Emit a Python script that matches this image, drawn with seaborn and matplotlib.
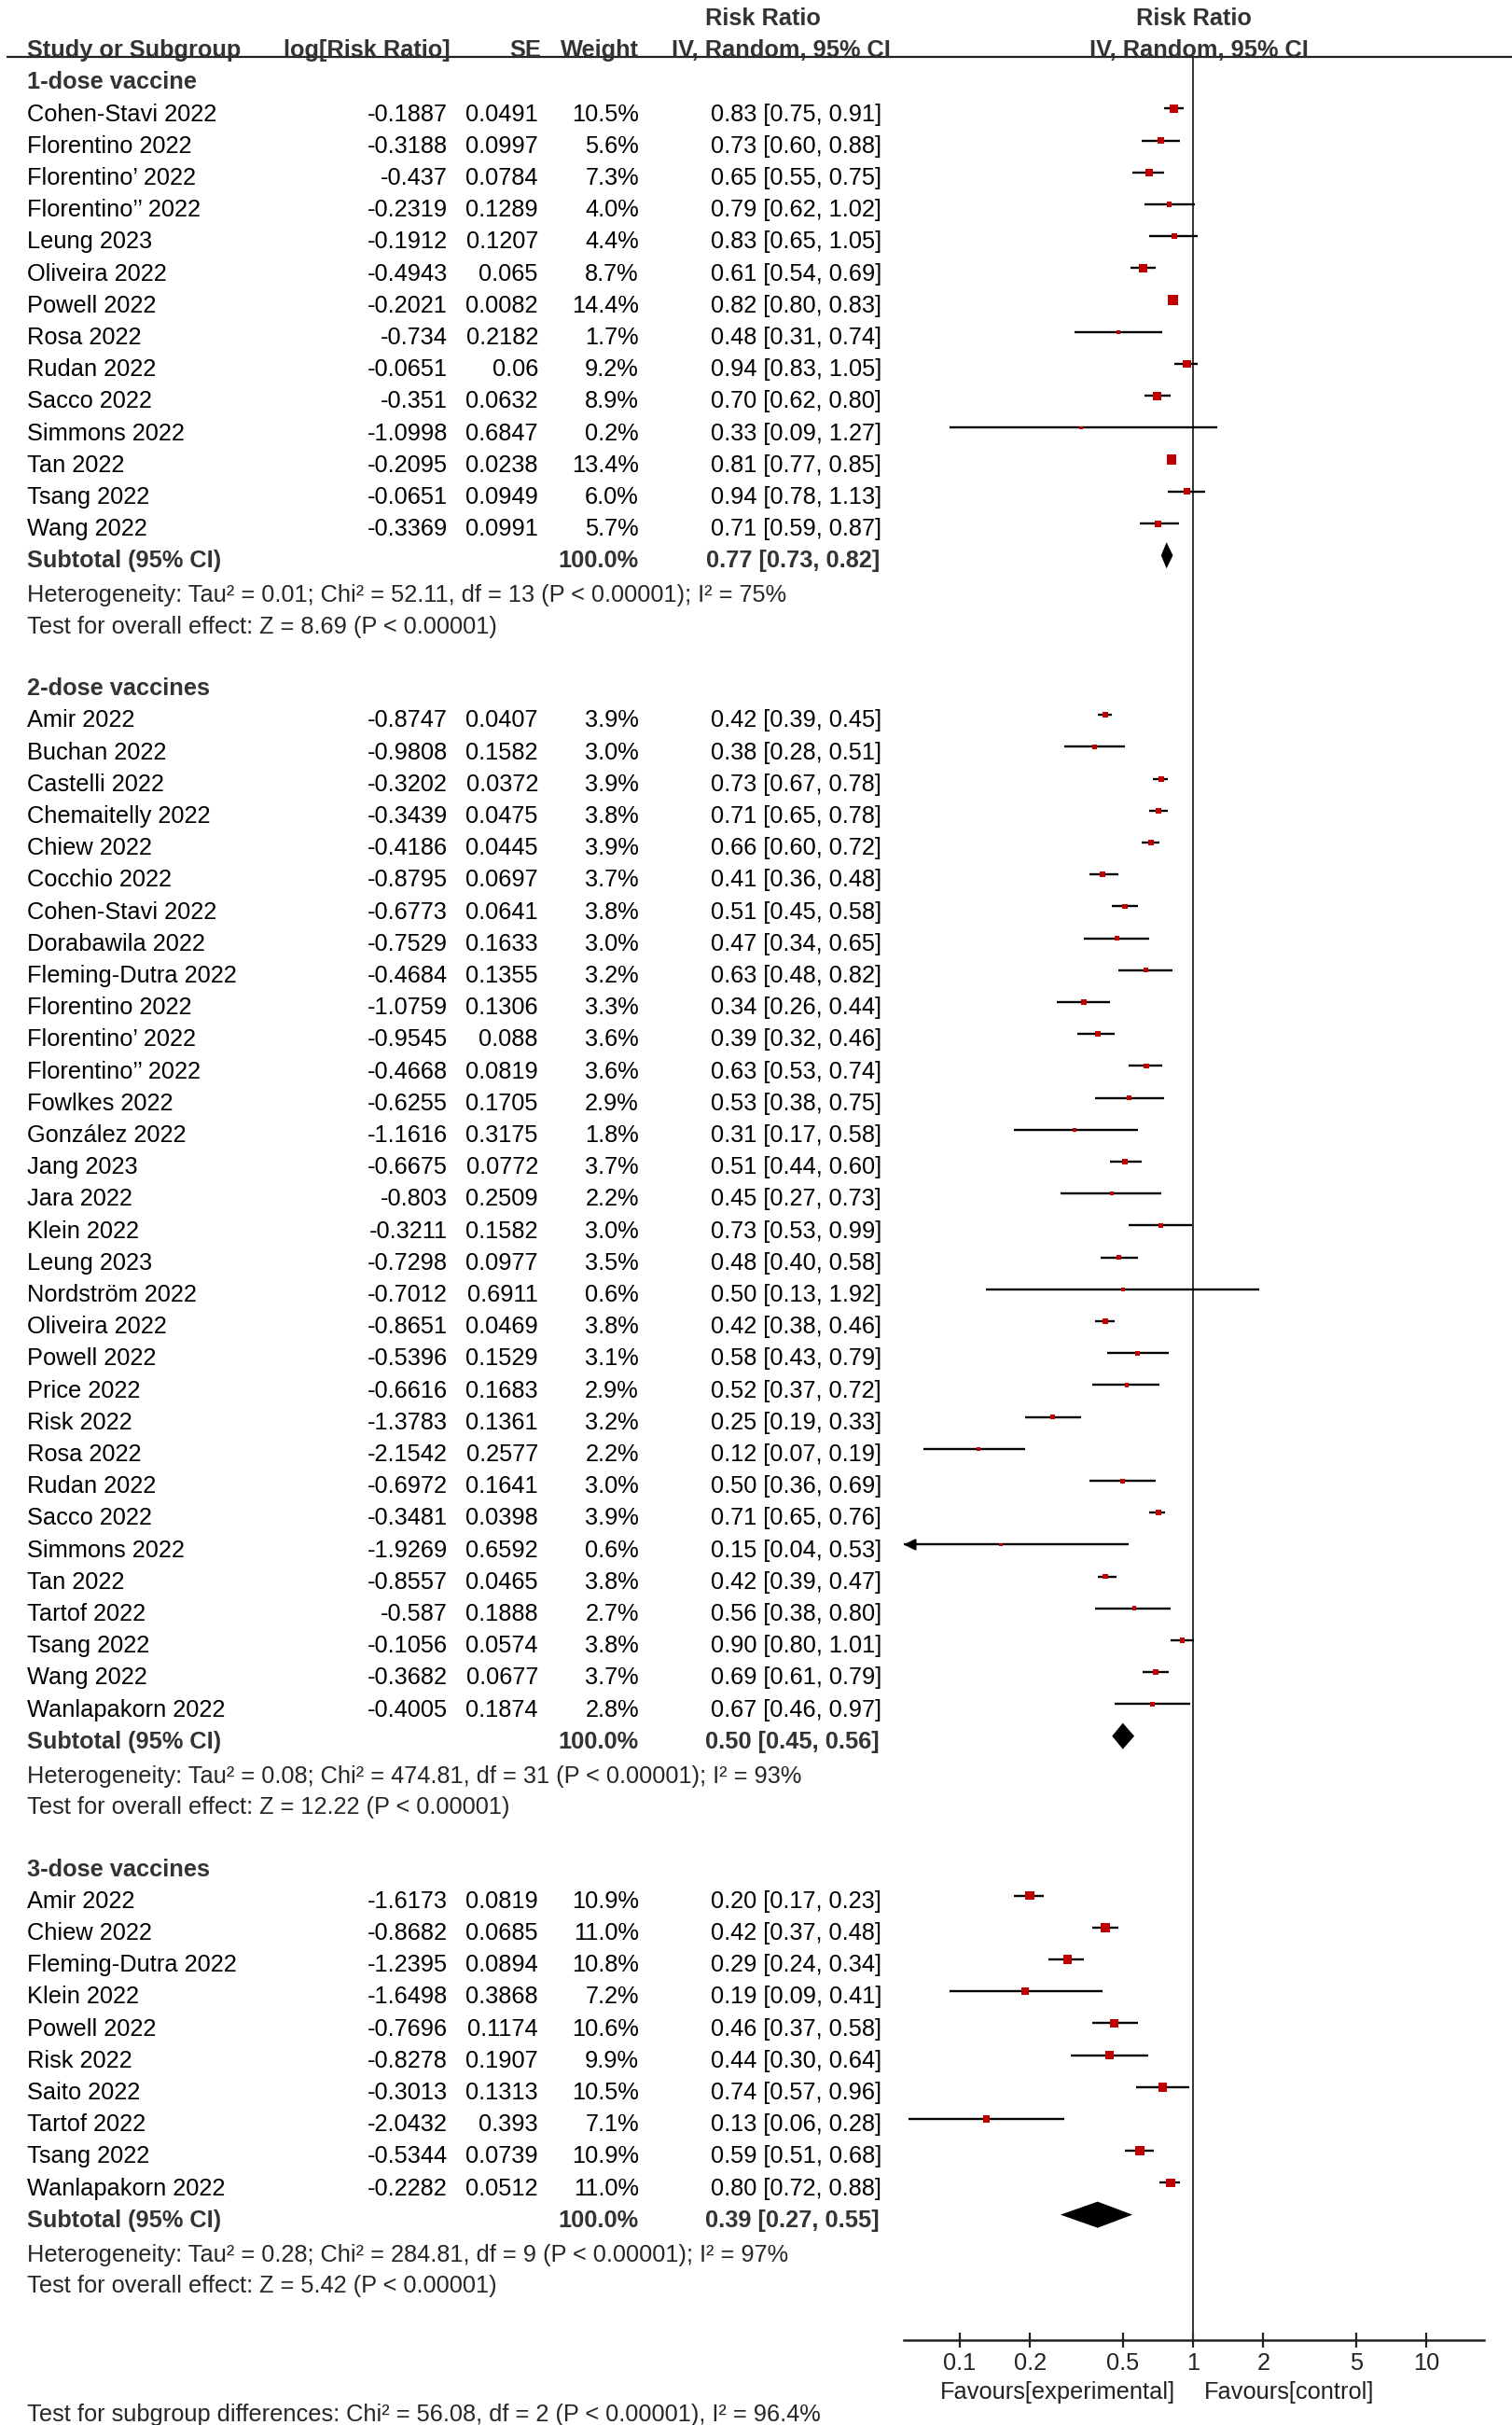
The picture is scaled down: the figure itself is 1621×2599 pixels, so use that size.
import numpy as np
import pandas as pd
import matplotlib
matplotlib.use("Agg")
import matplotlib.pyplot as plt
from matplotlib.ticker import FixedLocator, FixedFormatter, NullLocator
import seaborn as sns

# ---- data ----
names1 = ["Cohen-Stavi 2022", "Florentino 2022", "Florentino’ 2022", "Florentino’’ 2022",
          "Leung 2023", "Oliveira 2022", "Powell 2022", "Rosa 2022", "Rudan 2022",
          "Sacco 2022", "Simmons 2022", "Tan 2022", "Tsang 2022", "Wang 2022"]
logrr1 = ["-0.1887", "-0.3188", "-0.437", "-0.2319", "-0.1912", "-0.4943", "-0.2021",
          "-0.734", "-0.0651", "-0.351", "-1.0998", "-0.2095", "-0.0651", "-0.3369"]
se1 = ["0.0491", "0.0997", "0.0784", "0.1289", "0.1207", "0.065", "0.0082",
       "0.2182", "0.06", "0.0632", "0.6847", "0.0238", "0.0949", "0.0991"]
w1 = [10.5, 5.6, 7.3, 4.0, 4.4, 8.7, 14.4, 1.7, 9.2, 8.9, 0.2, 13.4, 6.0, 5.7]
rr1 = [0.83, 0.73, 0.65, 0.79, 0.83, 0.61, 0.82, 0.48, 0.94, 0.70, 0.33, 0.81, 0.94, 0.71]
lo1 = [0.75, 0.60, 0.55, 0.62, 0.65, 0.54, 0.80, 0.31, 0.83, 0.62, 0.09, 0.77, 0.78, 0.59]
hi1 = [0.91, 0.88, 0.75, 1.02, 1.05, 0.69, 0.83, 0.74, 1.05, 0.80, 1.27, 0.85, 1.13, 0.87]

names2 = ["Amir 2022", "Buchan 2022", "Castelli 2022", "Chemaitelly 2022", "Chiew 2022",
          "Cocchio 2022", "Cohen-Stavi 2022", "Dorabawila 2022", "Fleming-Dutra 2022",
          "Florentino 2022", "Florentino’ 2022", "Florentino’’ 2022", "Fowlkes 2022",
          "González 2022", "Jang 2023", "Jara 2022", "Klein 2022", "Leung 2023",
          "Nordström 2022", "Oliveira 2022", "Powell 2022", "Price 2022", "Risk 2022",
          "Rosa 2022", "Rudan 2022", "Sacco 2022", "Simmons 2022", "Tan 2022",
          "Tartof 2022", "Tsang 2022", "Wang 2022", "Wanlapakorn 2022"]
logrr2 = ["-0.8747", "-0.9808", "-0.3202", "-0.3439", "-0.4186", "-0.8795", "-0.6773",
          "-0.7529", "-0.4684", "-1.0759", "-0.9545", "-0.4668", "-0.6255", "-1.1616",
          "-0.6675", "-0.803", "-0.3211", "-0.7298", "-0.7012", "-0.8651", "-0.5396",
          "-0.6616", "-1.3783", "-2.1542", "-0.6972", "-0.3481", "-1.9269", "-0.8557",
          "-0.587", "-0.1056", "-0.3682", "-0.4005"]
se2 = ["0.0407", "0.1582", "0.0372", "0.0475", "0.0445", "0.0697", "0.0641", "0.1633",
       "0.1355", "0.1306", "0.088", "0.0819", "0.1705", "0.3175", "0.0772", "0.2509",
       "0.1582", "0.0977", "0.6911", "0.0469", "0.1529", "0.1683", "0.1361", "0.2577",
       "0.1641", "0.0398", "0.6592", "0.0465", "0.1888", "0.0574", "0.0677", "0.1874"]
w2 = [3.9, 3.0, 3.9, 3.8, 3.9, 3.7, 3.8, 3.0, 3.2, 3.3, 3.6, 3.6, 2.9, 1.8, 3.7, 2.2,
      3.0, 3.5, 0.6, 3.8, 3.1, 2.9, 3.2, 2.2, 3.0, 3.9, 0.6, 3.8, 2.7, 3.8, 3.7, 2.8]
rr2 = [0.42, 0.38, 0.73, 0.71, 0.66, 0.41, 0.51, 0.47, 0.63, 0.34, 0.39, 0.63, 0.53, 0.31,
       0.51, 0.45, 0.73, 0.48, 0.50, 0.42, 0.58, 0.52, 0.25, 0.12, 0.50, 0.71, 0.15, 0.42,
       0.56, 0.90, 0.69, 0.67]
lo2 = [0.39, 0.28, 0.67, 0.65, 0.60, 0.36, 0.45, 0.34, 0.48, 0.26, 0.32, 0.53, 0.38, 0.17,
       0.44, 0.27, 0.53, 0.40, 0.13, 0.38, 0.43, 0.37, 0.19, 0.07, 0.36, 0.65, 0.04, 0.39,
       0.38, 0.80, 0.61, 0.46]
hi2 = [0.45, 0.51, 0.78, 0.78, 0.72, 0.48, 0.58, 0.65, 0.82, 0.44, 0.46, 0.74, 0.75, 0.58,
       0.60, 0.73, 0.99, 0.58, 1.92, 0.46, 0.79, 0.72, 0.33, 0.19, 0.69, 0.76, 0.53, 0.47,
       0.80, 1.01, 0.79, 0.97]

names3 = ["Amir 2022", "Chiew 2022", "Fleming-Dutra 2022", "Klein 2022", "Powell 2022",
          "Risk 2022", "Saito 2022", "Tartof 2022", "Tsang 2022", "Wanlapakorn 2022"]
logrr3 = ["-1.6173", "-0.8682", "-1.2395", "-1.6498", "-0.7696", "-0.8278", "-0.3013",
          "-2.0432", "-0.5344", "-0.2282"]
se3 = ["0.0819", "0.0685", "0.0894", "0.3868", "0.1174", "0.1907", "0.1313", "0.393",
       "0.0739", "0.0512"]
w3 = [10.9, 11.0, 10.8, 7.2, 10.6, 9.9, 10.5, 7.1, 10.9, 11.0]
rr3 = [0.20, 0.42, 0.29, 0.19, 0.46, 0.44, 0.74, 0.13, 0.59, 0.80]
lo3 = [0.17, 0.37, 0.24, 0.09, 0.37, 0.30, 0.57, 0.06, 0.51, 0.72]
hi3 = [0.23, 0.48, 0.34, 0.41, 0.58, 0.64, 0.96, 0.28, 0.68, 0.88]

group_titles = ["1-dose vaccine", "2-dose vaccines", "3-dose vaccines"]
sub_rr = [0.77, 0.50, 0.39]
sub_lo = [0.73, 0.45, 0.27]
sub_hi = [0.82, 0.56, 0.55]
het_text = ["Heterogeneity: Tau² = 0.01; Chi² = 52.11, df = 13 (P < 0.00001); I² = 75%",
            "Heterogeneity: Tau² = 0.08; Chi² = 474.81, df = 31 (P < 0.00001); I² = 93%",
            "Heterogeneity: Tau² = 0.28; Chi² = 284.81, df = 9 (P < 0.00001); I² = 97%"]
effect_text = ["Test for overall effect: Z = 8.69 (P < 0.00001)",
               "Test for overall effect: Z = 12.22 (P < 0.00001)",
               "Test for overall effect: Z = 5.42 (P < 0.00001)"]
subgroup_text = "Test for subgroup differences: Chi² = 56.08, df = 2 (P < 0.00001), I² = 96.4%"

tick_vals = [0.1, 0.2, 0.5, 1, 2, 5, 10]
tick_labels = ["0.1", "0.2", "0.5", "1", "2", "5", "10"]

groups = [
    (names1, logrr1, se1, w1, rr1, lo1, hi1),
    (names2, logrr2, se2, w2, rr2, lo2, hi2),
    (names3, logrr3, se3, w3, rr3, lo3, hi3),
]

# ---- layout ----
sns.set_style("white")
plt.rcParams["font.family"] = ["Liberation Sans", "DejaVu Sans"]
FS = 18.3
BOLD_C = "#333333"
RED = "#c00000"

W, H = 1621, 2599
PITCH, ROW0 = 34.2, 20.0
def px2row(py):
    return (py - ROW0) / PITCH

AXIS_PX = 2508
FX0, FX1, ONE_PX, DEC = 969, 1591, 1279, 250.0
xmin = 10 ** ((FX0 - ONE_PX) / DEC)
xmax = 10 ** ((FX1 - ONE_PX) / DEC)
MARK_SHIFT = 0.18

fig = plt.figure(figsize=(W / 100, H / 100), dpi=100)
tx = fig.add_axes([0, 0, 1, 1])
tx.set_xlim(0, W)
tx.set_ylim(px2row(H), px2row(0))
tx.axis("off")

ax = fig.add_axes([FX0 / W, (H - AXIS_PX) / H, (FX1 - FX0) / W, AXIS_PX / H])
ax.patch.set_alpha(0)

# column anchors (px)
X_NAME, X_LOG, X_SE, X_W, X_CI = 29, 480, 577, 685, 945

# headers
hdr = dict(fontsize=FS, fontweight="bold", color=BOLD_C, va="center")
tx.text(X_NAME, 1, "Study or Subgroup", ha="left", **hdr)
tx.text(483, 1, "log[Risk Ratio]", ha="right", **hdr)
tx.text(580, 1, "SE", ha="right", **hdr)
tx.text(X_W, 1, "Weight", ha="right", **hdr)
tx.text(818, 0, "Risk Ratio", ha="center", **hdr)
tx.text(837, 1, "IV, Random, 95% CI", ha="center", **hdr)
tx.text(1280, 0, "Risk Ratio", ha="center", **hdr)
tx.text(1285, 1, "IV, Random, 95% CI", ha="center", **hdr)
line_row = px2row(61)
tx.hlines(line_row, 7, W, color="#222222", lw=1.6)

recs = []
row = 2
for gi, (nm, lg, se, w, rr, lo, hi) in enumerate(groups):
    tx.text(X_NAME, row, group_titles[gi], ha="left", **hdr)
    row += 1
    for i in range(len(nm)):
        kw = dict(fontsize=FS, color="black", va="center")
        tx.text(X_NAME, row, nm[i], ha="left", **kw)
        tx.text(X_LOG, row, lg[i], ha="right", **kw)
        tx.text(X_SE, row, se[i], ha="right", **kw)
        tx.text(X_W, row, f"{w[i]:.1f}%", ha="right", **kw)
        tx.text(X_CI, row, f"{rr[i]:.2f} [{lo[i]:.2f}, {hi[i]:.2f}]", ha="right", **kw)
        recs.append(dict(rr=rr[i], lo=lo[i], hi=hi[i], w=w[i], row=row - MARK_SHIFT))
        row += 1
    # subtotal
    tx.text(X_NAME, row, "Subtotal (95% CI)", ha="left", **hdr)
    tx.text(X_W, row, "100.0%", ha="right", **hdr)
    tx.text(X_CI - 2, row, f"{sub_rr[gi]:.2f} [{sub_lo[gi]:.2f}, {sub_hi[gi]:.2f}]",
            ha="right", **hdr)
    yd = row - MARK_SHIFT
    hh = 0.41
    ax.fill([sub_lo[gi], sub_rr[gi], sub_hi[gi], sub_rr[gi]],
            [yd, yd - hh, yd, yd + hh], color="black", lw=0, zorder=4)
    row += 1
    tx.text(X_NAME, row + 0.08, het_text[gi], ha="left", fontsize=FS, va="center")
    row += 1
    tx.text(X_NAME, row + 0.05, effect_text[gi], ha="left", fontsize=FS, va="center")
    row += 2

df = pd.DataFrame(recs)
df["side"] = np.maximum(3.8, 2.9 * np.sqrt(df["w"]))
df["s"] = (df["side"] * 0.72) ** 2

# CI lines (clipped at the axis range, arrow when beyond)
ax.hlines(df["row"], np.maximum(df["lo"], xmin), np.minimum(df["hi"], xmax),
          color="black", lw=1.7, zorder=2)
for _, r in df[df["lo"] < xmin].iterrows():
    ax.annotate("", xy=(xmin, r["row"]), xytext=(xmin * 1.12, r["row"]),
                arrowprops=dict(arrowstyle="-|>,head_length=0.7,head_width=0.35",
                                color="black", lw=1.7, shrinkA=0, shrinkB=0),
                annotation_clip=False)

sns.scatterplot(data=df, x="rr", y="row", marker="s", s=df["s"].values, color=RED,
                linewidth=0, legend=False, ax=ax, zorder=3)

ax.vlines(1, line_row, px2row(AXIS_PX), color="#333333", lw=1.4, zorder=1)

ax.set_xscale("log")
ax.set_xlim(xmin, xmax)
ax.set_ylim(px2row(AXIS_PX), px2row(0))
ax.set_xlabel("")
ax.set_ylabel("")
for s in ["top", "left", "right"]:
    ax.spines[s].set_visible(False)
ax.spines["bottom"].set_linewidth(1.8)
ax.spines["bottom"].set_color("#222222")
ax.xaxis.set_major_locator(FixedLocator(tick_vals))
ax.xaxis.set_major_formatter(FixedFormatter(tick_labels))
ax.xaxis.set_minor_locator(NullLocator())
ax.tick_params(axis="x", bottom=True, direction="inout", length=11, width=1.6,
               color="#222222", labelsize=FS, pad=4, labelcolor="#222222")
ax.set_yticks([])

tx.text(1260, px2row(2564), "Favours[experimental]", ha="right", va="center",
        fontsize=FS, color="#222222")
tx.text(1291, px2row(2564), "Favours[control]", ha="left", va="center",
        fontsize=FS, color="#222222")
tx.text(X_NAME, px2row(2588), subgroup_text, ha="left", va="center", fontsize=FS)

fig.savefig("out.png", dpi=100)
